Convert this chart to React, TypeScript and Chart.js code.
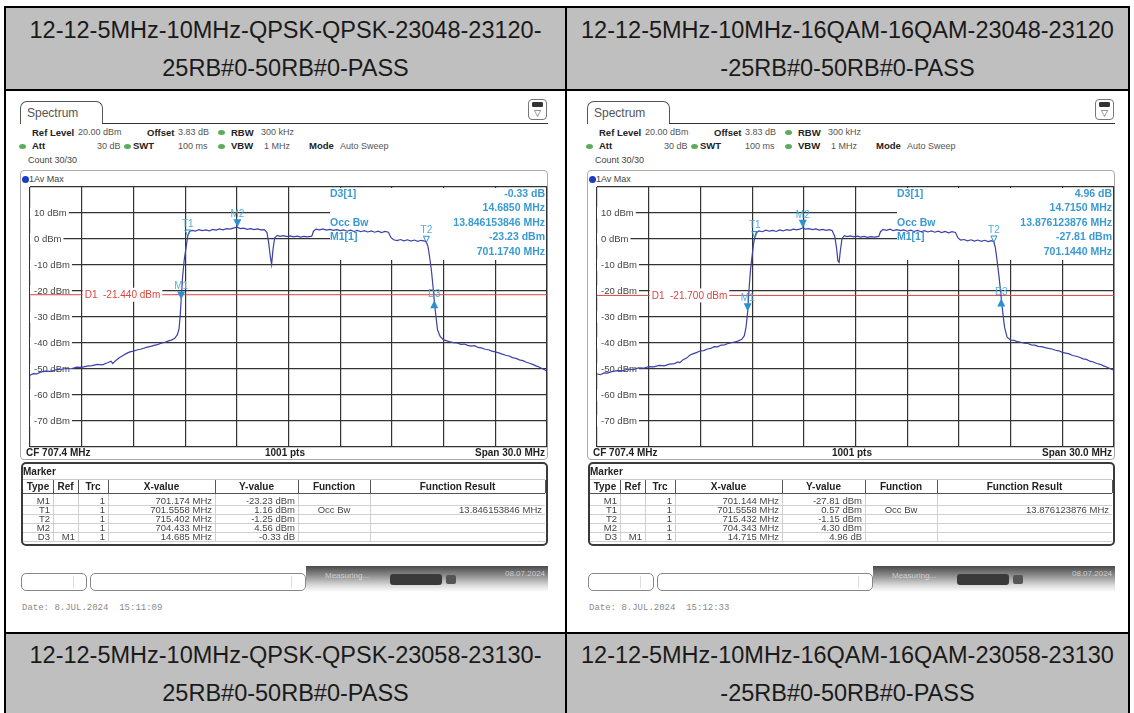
import React, { useEffect, useRef } from 'react';
import { Chart, registerables } from 'chart.js';

Chart.register(...registerables);

const X_TICKS = [692.4, 695.4, 698.4, 701.4, 704.4, 707.4, 710.4, 713.4, 716.4, 719.4, 722.4];
const Y_TICKS = [20, 10, 0, -10, -20, -30, -40, -50, -60, -70, -80];
const INFO_BOX = [709.8, -7.9];

const HEADERS_TOP = [
  ['12-12-5MHz-10MHz-QPSK-QPSK-23048-23120-', '25RB#0-50RB#0-PASS'],
  ['12-12-5MHz-10MHz-16QAM-16QAM-23048-23120', '-25RB#0-50RB#0-PASS'],
];
const HEADERS_BOTTOM = [
  ['12-12-5MHz-10MHz-QPSK-QPSK-23058-23130-', '25RB#0-50RB#0-PASS'],
  ['12-12-5MHz-10MHz-16QAM-16QAM-23058-23130', '-25RB#0-50RB#0-PASS'],
];

const TRACE_A: number[][] = [
  [692.4, -52.4], [692.6, -51.8], [692.8, -51.9], [693.0, -51.2], [693.3, -50.8], [693.6, -50.9], [693.9, -50.3],
  [694.2, -50.1], [694.5, -49.8], [694.8, -49.9], [695.1, -49.3], [695.4, -49.4], [695.7, -48.9], [696.0, -48.7],
  [696.3, -48.2], [696.6, -48.4], [696.9, -47.6], [697.1, -47.0], [697.2, -47.9], [697.4, -46.6], [697.6, -45.6],
  [697.8, -44.8], [698.0, -44.0], [698.2, -43.4], [698.4, -43.1], [698.6, -42.7], [698.8, -42.4], [699.0, -42.0],
  [699.2, -41.6], [699.4, -41.3], [699.6, -40.9], [699.8, -40.6], [700.0, -40.1], [700.2, -39.8], [700.4, -39.3],
  [700.6, -38.9], [700.8, -38.2], [700.95, -36.8], [701.05, -34.5], [701.12, -29.0], [701.174, -23.2], [701.25, -15.0],
  [701.35, -8.0], [701.45, -3.5], [701.556, 1.2], [701.65, 2.9], [701.8, 3.3], [702.0, 3.0], [702.2, 3.6],
  [702.4, 3.2], [702.6, 3.5], [702.8, 3.1], [703.0, 3.7], [703.2, 3.4], [703.4, 3.9], [703.6, 3.5], [703.8, 4.0],
  [704.0, 3.8], [704.2, 4.2], [704.433, 4.56], [704.6, 4.0], [704.8, 4.2], [705.0, 3.7], [705.2, 4.0], [705.4, 3.6],
  [705.6, 3.9], [705.8, 3.5], [706.0, 3.6], [706.15, 2.5], [706.25, -1.5], [706.35, -7.0], [706.42, -9.8],
  [706.5, -4.0], [706.6, 0.5], [706.75, 1.4], [706.9, 1.0], [707.1, 1.3], [707.3, 0.9], [707.5, 1.2], [707.7, 0.8],
  [707.9, 1.1], [708.1, 0.7], [708.3, 1.0], [708.5, 0.8], [708.75, 1.1], [708.85, 3.0], [709.0, 3.8], [709.2, 3.5],
  [709.4, 3.9], [709.6, 3.4], [709.8, 3.7], [710.0, 3.3], [710.2, 3.6], [710.4, 3.2], [710.6, 3.5], [710.8, 3.0],
  [711.0, 3.4], [711.2, 2.9], [711.4, 3.3], [711.6, 2.8], [711.8, 3.2], [712.0, 2.7], [712.2, 3.1], [712.4, 2.6],
  [712.6, 3.0], [712.8, 2.5], [713.0, 2.9], [713.2, 2.6], [713.35, 0.5], [713.5, -0.3], [713.7, -0.6], [713.9, -0.2],
  [714.1, -0.7], [714.3, -0.3], [714.5, -0.8], [714.7, -0.4], [714.9, -0.9], [715.1, -0.5], [715.3, -0.8],
  [715.402, -1.25], [715.5, -3.0], [715.6, -7.5], [715.7, -12.5], [715.78, -18.0], [715.859, -23.6], [715.95, -29.5],
  [716.05, -35.0], [716.2, -37.5], [716.4, -38.8], [716.6, -39.2], [716.8, -39.6], [717.0, -39.9], [717.2, -40.0],
  [717.4, -40.5], [717.6, -40.4], [717.8, -40.9], [718.0, -41.2], [718.2, -41.0], [718.4, -41.7], [718.6, -41.9],
  [718.8, -42.4], [719.0, -42.6], [719.2, -43.1], [719.4, -43.4], [719.6, -43.8], [719.8, -44.3], [720.0, -44.7],
  [720.2, -45.0], [720.4, -45.6], [720.6, -45.9], [720.8, -46.5], [721.0, -46.8], [721.2, -47.4], [721.4, -47.8],
  [721.6, -48.3], [721.8, -48.9], [722.0, -49.4], [722.2, -50.1], [722.4, -50.8],
];

const TRACE_B: number[][] = [
  [692.4, -51.9], [692.6, -52.2], [692.8, -51.5], [693.0, -51.6], [693.3, -50.9], [693.6, -50.6], [693.9, -50.7],
  [694.2, -50.0], [694.5, -50.2], [694.8, -49.6], [695.1, -49.7], [695.4, -49.1], [695.7, -49.2], [696.0, -48.6],
  [696.3, -48.8], [696.6, -48.1], [696.9, -47.9], [697.1, -47.3], [697.2, -47.6], [697.4, -46.4], [697.6, -45.8],
  [697.8, -44.6], [698.0, -44.1], [698.2, -43.6], [698.4, -43.0], [698.6, -42.9], [698.8, -42.3], [699.0, -42.1],
  [699.2, -41.4], [699.4, -41.5], [699.6, -40.8], [699.8, -40.7], [700.0, -40.2], [700.2, -39.9], [700.4, -39.6],
  [700.6, -39.2], [700.8, -38.6], [700.95, -37.2], [701.05, -33.8], [701.144, -27.8], [701.22, -19.5], [701.3, -12.5],
  [701.4, -6.5], [701.48, -2.0], [701.556, 0.6], [701.65, 2.6], [701.8, 3.1], [702.0, 2.8], [702.2, 3.4],
  [702.4, 3.0], [702.6, 3.3], [702.8, 2.9], [703.0, 3.5], [703.2, 3.1], [703.4, 3.6], [703.6, 3.3], [703.8, 3.8],
  [704.0, 3.5], [704.2, 3.9], [704.343, 4.3], [704.5, 3.8], [704.7, 4.0], [704.9, 3.6], [705.1, 3.9], [705.3, 3.4],
  [705.5, 3.7], [705.7, 3.3], [705.9, 3.6], [706.05, 3.2], [706.2, 1.0], [706.3, -3.5], [706.38, -8.5], [706.45, -9.0],
  [706.52, -4.5], [706.62, 0.2], [706.75, 1.3], [706.9, 0.9], [707.1, 1.2], [707.3, 0.8], [707.5, 1.1], [707.7, 0.7],
  [707.9, 1.0], [708.1, 0.6], [708.3, 0.9], [708.5, 0.7], [708.75, 1.0], [708.85, 2.8], [709.0, 3.7], [709.2, 3.3],
  [709.4, 3.8], [709.6, 3.2], [709.8, 3.6], [710.0, 3.2], [710.2, 3.5], [710.4, 3.0], [710.6, 3.4], [710.8, 2.9],
  [711.0, 3.3], [711.2, 2.8], [711.4, 3.2], [711.6, 2.7], [711.8, 3.1], [712.0, 2.6], [712.2, 3.0], [712.4, 2.5],
  [712.6, 2.9], [712.8, 2.4], [713.0, 2.8], [713.2, 2.5], [713.35, 0.4], [713.5, -0.4], [713.7, -0.2], [713.9, -0.7],
  [714.1, -0.3], [714.3, -0.8], [714.5, -0.4], [714.7, -0.9], [714.9, -0.5], [715.1, -1.0], [715.3, -0.6],
  [715.432, -1.15], [715.52, -3.5], [715.62, -8.5], [715.72, -14.0], [715.8, -19.0], [715.859, -22.85], [715.95, -28.5],
  [716.05, -34.0], [716.2, -37.8], [716.4, -38.9], [716.6, -39.0], [716.8, -39.5], [717.0, -39.7], [717.2, -40.1],
  [717.4, -40.2], [717.6, -40.7], [717.8, -40.8], [718.0, -41.3], [718.2, -41.4], [718.4, -41.8], [718.6, -42.1],
  [718.8, -42.3], [719.0, -42.8], [719.2, -43.0], [719.4, -43.6], [719.6, -43.9], [719.8, -44.2], [720.0, -44.8],
  [720.2, -45.1], [720.4, -45.5], [720.6, -46.1], [720.8, -46.3], [721.0, -47.0], [721.2, -47.3], [721.4, -47.9],
  [721.6, -48.2], [721.8, -48.8], [722.0, -49.3], [722.2, -49.9], [722.4, -50.6],
];

const MARKERS_A = [
  { name: 'M1', f: 701.174, v: -23.23, kind: 'down' },
  { name: 'T1', f: 701.5558, v: 1.16, kind: 'open' },
  { name: 'T2', f: 715.402, v: -1.25, kind: 'open' },
  { name: 'M2', f: 704.433, v: 4.56, kind: 'down' },
  { name: 'D3', f: 715.859, v: -23.56, kind: 'up' },
];
const MARKERS_B = [
  { name: 'M1', f: 701.144, v: -27.81, kind: 'down' },
  { name: 'T1', f: 701.5558, v: 0.57, kind: 'open' },
  { name: 'T2', f: 715.432, v: -1.15, kind: 'open' },
  { name: 'M2', f: 704.343, v: 4.3, kind: 'down' },
  { name: 'D3', f: 715.859, v: -22.85, kind: 'up' },
];

const D1_A = -21.44;
const D1_B = -21.7;

const INFO_A = [['D3[1]', '-0.33 dB'], ['', '14.6850 MHz'], ['Occ Bw', '13.846153846 MHz'], ['M1[1]', '-23.23 dBm'], ['', '701.1740 MHz']];
const INFO_B = [['D3[1]', '4.96 dB'], ['', '14.7150 MHz'], ['Occ Bw', '13.876123876 MHz'], ['M1[1]', '-27.81 dBm'], ['', '701.1440 MHz']];

const TABLE_HEAD = ['Type', 'Ref', 'Trc', 'X-value', 'Y-value', 'Function', 'Function Result'];
const TABLE_A = [
  ['M1', '', '1', '701.174 MHz', '-23.23 dBm', '', ''],
  ['T1', '', '1', '701.5558 MHz', '1.16 dBm', 'Occ Bw', '13.846153846 MHz'],
  ['T2', '', '1', '715.402 MHz', '-1.25 dBm', '', ''],
  ['M2', '', '1', '704.433 MHz', '4.56 dBm', '', ''],
  ['D3', 'M1', '1', '14.685 MHz', '-0.33 dB', '', ''],
];
const TABLE_B = [
  ['M1', '', '1', '701.144 MHz', '-27.81 dBm', '', ''],
  ['T1', '', '1', '701.5558 MHz', '0.57 dBm', 'Occ Bw', '13.876123876 MHz'],
  ['T2', '', '1', '715.432 MHz', '-1.15 dBm', '', ''],
  ['M2', '', '1', '704.343 MHz', '4.30 dBm', '', ''],
  ['D3', 'M1', '1', '14.715 MHz', '4.96 dB', '', ''],
];

const DATE_A = 'Date: 8.JUL.2024  15:11:09';
const DATE_B = 'Date: 8.JUL.2024  15:12:33';

const FONT = '"Liberation Sans", Arial, sans-serif';
const MONO = '"Liberation Mono", "DejaVu Sans Mono", monospace';
const INFO_COLOR = '#3a9ad2';
const MARK_COLOR = '#2b90cf';
const MARK_LABEL = '#52acdc';
const GRID = '#333333';
const TRACE_COLOR = '#3c40a8';
const D1_COLOR = '#d8473f';

type TxtProps = { x: number; y: number; s?: number; b?: boolean; c?: string; a?: string; f?: string; children?: any };
function Txt({ x, y, s = 10, b = false, c = '#333', a = 'left', f = FONT, children }: TxtProps) {
  const tr = a === 'right' ? 'translateX(-100%)' : a === 'center' ? 'translateX(-50%)' : undefined;
  return (
    <div
      style={{
        position: 'absolute', left: x, top: y - s * 0.6, lineHeight: `${s * 1.2}px`, fontSize: s,
        fontWeight: b ? 'bold' : 'normal', color: c, fontFamily: f, whiteSpace: 'pre', transform: tr,
      }}
    >
      {children}
    </div>
  );
}

function Box({ l, t, w, h, st }: { l: number; t: number; w: number; h: number; st?: any }) {
  return <div style={{ position: 'absolute', left: l, top: t, width: w, height: h, boxSizing: 'border-box', ...st }} />;
}

function Dot({ x, y, c = '#5aad5a', w = 7, h = 5 }: { x: number; y: number; c?: string; w?: number; h?: number }) {
  return <Box l={x - w / 2} t={y - h / 2} w={w} h={h} st={{ background: c, borderRadius: '50%' }} />;
}

function Plot({ left, top, trace, markers, d1 }: { left: number; top: number; trace: number[][]; markers: any[]; d1: number }) {
  const ref = useRef<HTMLCanvasElement>(null);
  useEffect(() => {
    const canvas = ref.current as HTMLCanvasElement;
    const overlay = {
      id: 'overlay',
      beforeDatasetsDraw(chart: any) {
        const { ctx, chartArea: a, scales } = chart;
        const l = Math.round(scales.x.getPixelForValue(INFO_BOX[0]));
        const b = Math.round(scales.y.getPixelForValue(INFO_BOX[1]));
        ctx.save();
        ctx.fillStyle = '#ffffff';
        ctx.fillRect(l, a.top + 1, a.right - 1 - l, b - a.top - 1);
        ctx.restore();
      },
      afterDatasetsDraw(chart: any) {
        const { ctx, scales } = chart;
        const xs = scales.x;
        const ys = scales.y;
        ctx.save();
        const label = `D1  ${d1.toFixed(3)} dBm`;
        ctx.font = `10px ${FONT}`;
        const lx = xs.getPixelForValue(X_TICKS[1]) + 2;
        const ly = ys.getPixelForValue(d1);
        const tw = ctx.measureText(label).width;
        ctx.fillStyle = '#ffffff';
        ctx.fillRect(lx - 1, ly - 7, tw + 4, 14);
        ctx.fillStyle = D1_COLOR;
        ctx.textAlign = 'left';
        ctx.textBaseline = 'middle';
        ctx.fillText(label, lx + 1, ly + 1);
        for (const m of markers) {
          const px = xs.getPixelForValue(m.f);
          const py = ys.getPixelForValue(m.v);
          ctx.fillStyle = MARK_COLOR;
          ctx.strokeStyle = MARK_COLOR;
          ctx.lineWidth = 1;
          ctx.beginPath();
          let labelY = py - 13;
          if (m.kind === 'down') {
            ctx.moveTo(px - 4, py - 8);
            ctx.lineTo(px + 4, py - 8);
            ctx.lineTo(px, py);
            ctx.closePath();
            ctx.fill();
          } else if (m.kind === 'open') {
            ctx.moveTo(px - 3, py - 6);
            ctx.lineTo(px + 3, py - 6);
            ctx.lineTo(px, py);
            ctx.closePath();
            ctx.stroke();
            labelY = py - 12;
          } else {
            ctx.moveTo(px, py);
            ctx.lineTo(px - 4, py + 8);
            ctx.lineTo(px + 4, py + 8);
            ctx.closePath();
            ctx.fill();
            labelY = py - 6;
          }
          ctx.fillStyle = MARK_LABEL;
          ctx.font = `10px ${FONT}`;
          ctx.textAlign = 'center';
          ctx.textBaseline = 'middle';
          ctx.fillText(m.name, px, labelY);
        }
        ctx.restore();
      },
    };
    const zeroPad = (s: any) => {
      s.paddingTop = 0;
      s.paddingBottom = 0;
      s.paddingLeft = 0;
      s.paddingRight = 0;
    };
    const chart = new Chart(canvas, {
      type: 'line',
      data: {
        datasets: [
          {
            data: trace.map((p) => ({ x: p[0], y: p[1] })),
            borderColor: TRACE_COLOR,
            borderWidth: 1.2,
            pointRadius: 0,
            tension: 0,
          },
          {
            data: [{ x: X_TICKS[0], y: d1 }, { x: X_TICKS[X_TICKS.length - 1], y: d1 }],
            borderColor: D1_COLOR,
            borderWidth: 1,
            pointRadius: 0,
          },
        ],
      },
      options: {
        animation: false,
        responsive: false,
        events: [],
        layout: { padding: 1 },
        plugins: { legend: { display: false }, tooltip: { enabled: false } },
        scales: {
          x: {
            type: 'linear',
            min: X_TICKS[0],
            max: X_TICKS[X_TICKS.length - 1],
            afterBuildTicks: (s: any) => { s.ticks = X_TICKS.map((v) => ({ value: v })); },
            afterFit: zeroPad,
            ticks: { display: false },
            grid: { color: GRID, lineWidth: 1.2, drawTicks: false },
            border: { display: false },
          },
          y: {
            type: 'linear',
            min: Y_TICKS[Y_TICKS.length - 1],
            max: Y_TICKS[0],
            afterBuildTicks: (s: any) => { s.ticks = Y_TICKS.map((v) => ({ value: v })); },
            afterFit: zeroPad,
            ticks: {
              mirror: true,
              padding: 4,
              color: '#444',
              font: { size: 9.5, family: FONT },
              callback: (v: any) => (v === Y_TICKS[0] || v === Y_TICKS[Y_TICKS.length - 1] ? '' : `${v} dBm`),
              showLabelBackdrop: (c: any) => !!c.tick && c.tick.value !== Y_TICKS[0] && c.tick.value !== Y_TICKS[Y_TICKS.length - 1],
              backdropColor: '#ffffff',
              backdropPadding: { left: 4, right: 2, top: 0, bottom: 0 },
            },
            grid: { color: GRID, lineWidth: 1.2, drawTicks: false },
            border: { display: false },
          },
        },
      },
      plugins: [overlay],
    } as any);
    return () => chart.destroy();
  }, [trace, markers, d1]);
  return (
    <canvas
      ref={ref}
      width={527}
      height={262}
      style={{ position: 'absolute', left, top, width: 527, height: 262 }}
    />
  );
}

const COLS = [23, 53, 78, 108, 215, 298, 370, 545];
const ALIGN = ['right', 'right', 'right', 'right', 'right', 'center', 'right'];

function Panel({ dx, trace, markers, d1, info, rows, date }: any) {
  const infoY = [193, 207, 222, 236, 251];
  const rowY = [500.5, 509.5, 518.5, 527.5, 536.5];
  const ps = 9.5;
  const vs = 9;
  return (
    <>
      <Box l={dx + 20} t={101} w={83} h={23} st={{ border: '1px solid #555', borderBottom: 'none', borderRadius: '7px 7px 0 0', background: '#fff' }} />
      <Txt x={dx + 27} y={113} s={12} c="#555">Spectrum</Txt>
      <Box l={dx + 102} t={123} w={446} h={1} st={{ background: '#333' }} />
      <Box l={dx + 528} t={99} w={19} h={21} st={{ border: '1px solid #777', borderRadius: 4, background: '#fff' }} />
      <Box l={dx + 532} t={102} w={11} h={5} st={{ background: '#333', border: '1px solid #333', borderRadius: 1 }} />
      <Txt x={dx + 537.5} y={113} s={9} c="#444" a="center">▽</Txt>
      <Txt x={dx + 32} y={132.5} s={ps} b c="#222">Ref Level</Txt>
      <Txt x={dx + 78} y={132.5} s={vs} c="#555">20.00 dBm</Txt>
      <Txt x={dx + 147} y={132.5} s={ps} b c="#222">Offset</Txt>
      <Txt x={dx + 178} y={132.5} s={vs} c="#555">3.83 dB</Txt>
      <Dot x={dx + 221} y={132.5} />
      <Txt x={dx + 231} y={132.5} s={ps} b c="#222">RBW</Txt>
      <Txt x={dx + 261} y={132.5} s={vs} c="#555">300 kHz</Txt>
      <Dot x={dx + 22} y={146} />
      <Txt x={dx + 32} y={146} s={ps} b c="#222">Att</Txt>
      <Txt x={dx + 97} y={146} s={vs} c="#555">30 dB</Txt>
      <Dot x={dx + 127} y={146} />
      <Txt x={dx + 133} y={146} s={ps} b c="#222">SWT</Txt>
      <Txt x={dx + 178} y={146} s={vs} c="#555">100 ms</Txt>
      <Dot x={dx + 221} y={146} />
      <Txt x={dx + 231} y={146} s={ps} b c="#222">VBW</Txt>
      <Txt x={dx + 264} y={146} s={vs} c="#555">1 MHz</Txt>
      <Txt x={dx + 309} y={146} s={ps} b c="#222">Mode</Txt>
      <Txt x={dx + 340} y={146} s={vs} c="#555">Auto Sweep</Txt>
      <Txt x={dx + 28} y={160.5} s={vs} c="#444">Count 30/30</Txt>
      <Box l={dx + 20} t={170} w={528} h={290} st={{ border: '1px solid #aaa', borderRadius: 4 }} />
      <Dot x={dx + 25.5} y={179} c="#1d3cc4" w={7} h={7} />
      <Txt x={dx + 29} y={179} s={vs} c="#444">1Av Max</Txt>
      <Plot left={dx + 21} top={186} trace={trace} markers={markers} d1={d1} />
      {info.map((r: string[], i: number) => (
        <React.Fragment key={i}>
          {r[0] ? <Txt x={dx + 330} y={infoY[i]} s={10.5} b c={INFO_COLOR}>{r[0]}</Txt> : null}
          <Txt x={dx + 545} y={infoY[i]} s={10.5} b c={INFO_COLOR} a="right">{r[1]}</Txt>
        </React.Fragment>
      ))}
      <Txt x={dx + 26} y={453} b c="#222">CF 707.4 MHz</Txt>
      <Txt x={dx + 285} y={453} b c="#222" a="center">1001 pts</Txt>
      <Txt x={dx + 545} y={453} b c="#222" a="right">Span 30.0 MHz</Txt>
      <Box l={dx + 21} t={462} w={527} h={84} st={{ border: '2px solid #3a3a3a', borderRadius: 5 }} />
      <Txt x={dx + 23} y={471.5} b c="#222">Marker</Txt>
      <Box l={dx + 23} t={479} w={522} h={1} st={{ background: '#c8c8c8' }} />
      <Box l={dx + 23} t={493} w={522} h={1} st={{ background: '#555' }} />
      {COLS.slice(1).map((cx, i) => (
        <React.Fragment key={'c' + i}>
          <Box l={dx + cx} t={480} w={1} h={13} st={{ background: '#555' }} />
          {i < COLS.length - 2 ? <Box l={dx + cx} t={494} w={1} h={47} st={{ background: '#cfcfcf' }} /> : null}
        </React.Fragment>
      ))}
      {TABLE_HEAD.map((h, i) => (
        <Txt key={'h' + i} x={dx + (COLS[i] + COLS[i + 1]) / 2} y={486.5} b c="#222" a="center">{h}</Txt>
      ))}
      {rows.map((r: string[], ri: number) => (
        <React.Fragment key={'r' + ri}>
          <Box l={dx + 23} t={rowY[ri] + 4} w={522} h={1} st={{ background: '#cfcfcf' }} />
          {r.map((cell, ci) => {
            if (!cell) return null;
            const al = ALIGN[ci];
            const x = al === 'center' ? (COLS[ci] + COLS[ci + 1]) / 2 : COLS[ci + 1] - 3;
            return (
              <Txt key={ci} x={dx + x} y={rowY[ri]} s={9.5} c="#444" a={al}>{cell}</Txt>
            );
          })}
        </React.Fragment>
      ))}
      <Box l={dx + 306} t={566} w={242} h={26} st={{ background: 'linear-gradient(to bottom, #4a4a4a 0%, #8a8a8a 35%, #dcdcdc 75%, #ffffff 100%)' }} />
      <Box l={dx + 21} t={573} w={66} h={18} st={{ border: '1px solid #888', borderRadius: 5, background: '#fff' }} />
      <Box l={dx + 73} t={576} w={1} h={12} st={{ background: '#ddd' }} />
      <Box l={dx + 90} t={573} w={216} h={18} st={{ border: '1px solid #888', borderRadius: 5, background: '#fff' }} />
      <Box l={dx + 291} t={576} w={1} h={12} st={{ background: '#ddd' }} />
      <Txt x={dx + 325} y={576} s={8} c="rgba(255,255,255,0.55)">Measuring...</Txt>
      <Box l={dx + 390} t={574} w={52} h={11} st={{ background: '#3a3a3a', borderRadius: 3 }} />
      <Box l={dx + 446} t={575} w={10} h={9} st={{ background: '#555', borderRadius: 2 }} />
      <Txt x={dx + 505} y={574} s={8} c="rgba(255,255,255,0.6)">08.07.2024</Txt>
      <Txt x={dx + 22} y={608} s={9} c="#8a8a8a" f={MONO}>{date}</Txt>
    </>
  );
}

function Header({ lines, y1, y2 }: { lines: string[][]; y1: number; y2: number }) {
  const cells = [[6, 565], [567, 1128]];
  return (
    <>
      {lines.map((ls, i) => {
        const cx = (cells[i][0] + cells[i][1]) / 2;
        return (
          <React.Fragment key={i}>
            <Txt x={cx} y={y1} s={23.5} c="#1a1a1a" a="center">{ls[0]}</Txt>
            <Txt x={cx} y={y2} s={23.5} c="#1a1a1a" a="center">{ls[1]}</Txt>
          </React.Fragment>
        );
      })}
    </>
  );
}

export default function App() {
  return (
    <div
      style={{
        position: 'absolute', left: 0, top: 0, width: 1134, height: 713, background: '#fff',
        overflow: 'hidden', fontFamily: FONT,
      }}
    >
      <Box l={6} t={8} w={1122} h={81} st={{ background: '#bfbfbf' }} />
      <Box l={6} t={634} w={1122} h={79} st={{ background: '#bfbfbf' }} />
      <Box l={4} t={6} w={1126} h={2} st={{ background: '#000' }} />
      <Box l={4} t={89} w={1126} h={2} st={{ background: '#000' }} />
      <Box l={4} t={632} w={1126} h={2} st={{ background: '#000' }} />
      <Box l={4} t={6} w={2} h={707} st={{ background: '#000' }} />
      <Box l={1128} t={6} w={2} h={707} st={{ background: '#000' }} />
      <Box l={565} t={8} w={2} h={705} st={{ background: '#000' }} />
      <Header lines={HEADERS_TOP} y1={30} y2={68} />
      <Header lines={HEADERS_BOTTOM} y1={655} y2={693} />
      <Panel dx={0} trace={TRACE_A} markers={MARKERS_A} d1={D1_A} info={INFO_A} rows={TABLE_A} date={DATE_A} />
      <Panel dx={567} trace={TRACE_B} markers={MARKERS_B} d1={D1_B} info={INFO_B} rows={TABLE_B} date={DATE_B} />
    </div>
  );
}
